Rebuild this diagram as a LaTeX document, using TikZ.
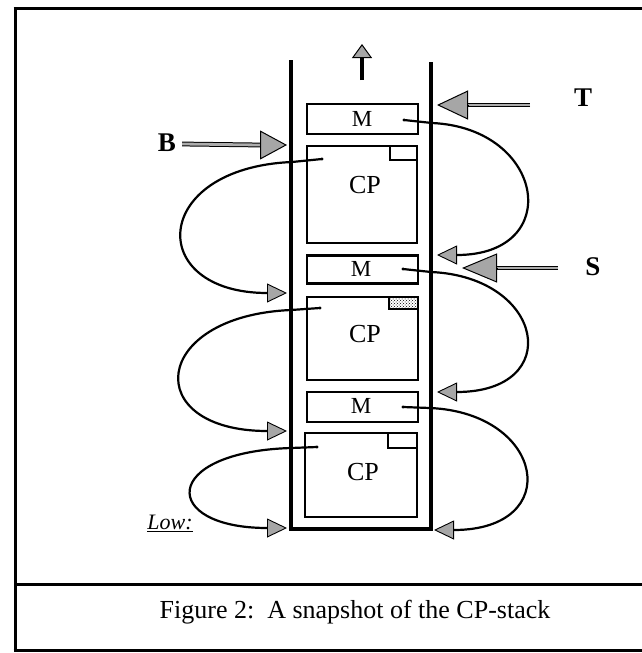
\documentclass[tikz,border=0pt]{standalone}
\usepackage{fontspec}
\setmainfont{Liberation Serif}
\usetikzlibrary{arrows.meta,patterns}
\begin{document}
\begin{tikzpicture}[x=1pt,y=-1pt,
  frame/.style={line width=3pt},
  wall/.style={line width=4pt,line join=miter},
  box/.style={draw,line width=2.2pt,inner sep=0pt,outer sep=0pt},
  curve/.style={line width=2.2pt,-{Triangle[length=20pt,width=19pt,fill=gray!70,line width=0.9pt]}},
  shaft/.style={double=gray!65,double distance=2.8pt,line width=1pt},
  bighead/.style={line width=1pt,-{Triangle[length=#1,width=29pt,fill=gray!70]}},
  boxtxt/.style={inner sep=0pt},
  mtxt/.style={boxtxt,font=\fontsize{23}{25}\selectfont},
  cptxt/.style={boxtxt,font=\fontsize{26}{28}\selectfont},
  ptr/.style={inner sep=0pt,font=\fontsize{27}{30}\selectfont\bfseries},
  dot/.style={circle,fill,inner sep=0pt,minimum size=3.2pt}
]
\useasboundingbox (0,0) rectangle (642,653);
% frame
\draw[frame] (15,8) -- (15,650);
\draw[frame] (13.5,8) -- (645,8);
\draw[frame] (13.5,650) -- (645,650);
\draw[frame] (15,584) -- (645,584);
\node[inner sep=0pt,font=\fontsize{26}{30}\selectfont] (cap) at (355,612) {Figure 2:\ \ A snapshot of the CP-stack};
% stack walls
\draw[wall] (291,60) -- (291,529) -- (431,529) -- (431,62);
% up arrow
\coordinate (upbase) at (362,80);
\coordinate (uphead) at (362,58);
\coordinate (uptip) at (362,44);
\draw[line width=3.5pt] (upbase) -- (uphead);
\draw[line width=1pt,-{Triangle[length=14pt,width=20pt,fill=gray!70]}] (uphead) -- (uptip);
% boxes
\node[box,minimum width=111pt,minimum height=30pt] (m1) at (362.5,119) {};
\node[mtxt] (m1t) at (362,119) {M};
\node[box,minimum width=110pt,minimum height=97pt] (cp1) at (362,194.5) {};
\node[cptxt] (cp1t) at (365,185) {CP};
\draw[line width=2pt] (390,146) -- (390,160) -- (417,160);
\node[box,minimum width=111pt,minimum height=28pt] (m2) at (362.5,269.5) {};
\node[mtxt] (m2t) at (361,269) {M};
\node[box,minimum width=111pt,minimum height=83pt] (cp2) at (362.5,338.5) {};
\node[cptxt] (cp2t) at (365,334) {CP};
\draw[line width=1.8pt,pattern=crosshatch dots] (389,297) rectangle (418,309);
\node[box,minimum width=111pt,minimum height=30pt] (m3) at (362.5,407) {};
\node[mtxt] (m3t) at (361,406) {M};
\node[box,minimum width=112pt,minimum height=84pt] (cp3) at (361,475) {};
\node[cptxt] (cp3t) at (363,472) {CP};
\draw[line width=2pt] (388,433) -- (388,448) -- (417,448);
% right loops (M -> above)
\node[dot] (dm1) at (404,120) {};
\coordinate (wm1) at (432,123);
\coordinate (tm1) at (437,255);
\draw[curve] (dm1.center) -- (wm1) .. controls (545,128) and (565,255) .. (tm1);
\node[dot] (dm2) at (403,269) {};
\coordinate (wm2) at (431,272);
\coordinate (tm2) at (437,392);
\draw[curve] (dm2.center) -- (wm2) .. controls (545,277) and (565,392) .. (tm2);
\node[dot] (dm3) at (403,407) {};
\coordinate (wm3) at (430,408);
\coordinate (tm3) at (434,530);
\draw[curve] (dm3.center) -- (wm3) .. controls (545,413) and (565,530) .. (tm3);
% left loops (CP -> above)
\node[dot] (dc1) at (322,159) {};
\coordinate (wc1) at (292,162);
\coordinate (tc1) at (287,293);
\draw[curve] (dc1.center) -- (wc1) .. controls (150,168) and (145,293) .. (tc1);
\node[dot] (dc2) at (320,308) {};
\coordinate (wc2) at (291,310);
\coordinate (tc2) at (287,431);
\draw[curve] (dc2.center) -- (wc2) .. controls (150,316) and (140,431) .. (tc2);
\node[dot] (dc3) at (317,447) {};
\coordinate (wc3) at (291,448);
\coordinate (tc3) at (287,528);
\draw[curve] (dc3.center) -- (wc3) .. controls (160,452) and (160,528) .. (tc3);
% B T S pointers
\node[ptr] (B) at (167,143) {B};
\coordinate (bbase) at (260,145);
\coordinate (btip) at (287,145);
\draw[shaft] (B.east) ++(6,1) -- (bbase);
\draw[bighead=27pt] (bbase) -- (btip);
\node[ptr] (T) at (583,98) {T};
\coordinate (tstart) at (530,105);
\coordinate (tbase) at (468,105);
\coordinate (ttip) at (437,105);
\draw[shaft] (tstart) -- (tbase);
\draw[bighead=31pt] (tbase) -- (ttip);
\node[ptr] (S) at (593,267) {S};
\coordinate (sstart) at (558,268);
\coordinate (sbase) at (497,268);
\coordinate (stip) at (462,268);
\draw[shaft] (sstart) -- (sbase);
\draw[bighead=35pt] (sbase) -- (stip);
% Low label
\node[inner sep=0pt,font=\fontsize{22}{24}\selectfont\itshape] (low) at (170,523) {\underline{Low:}};
\end{tikzpicture}
\end{document}
